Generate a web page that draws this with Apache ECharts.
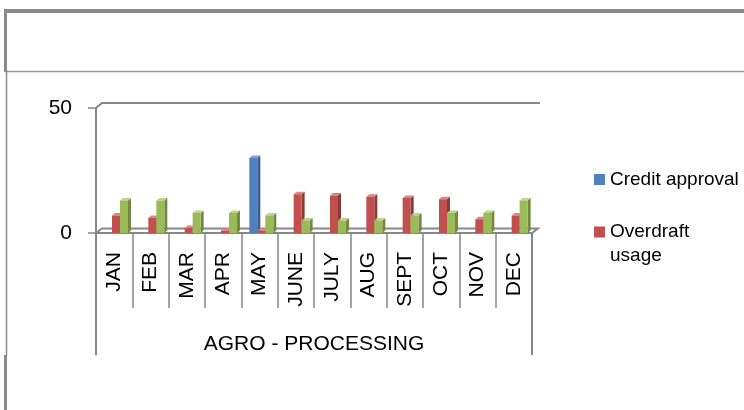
<!DOCTYPE html>
<html>
<head>
<meta charset="utf-8">
<script src="https://cdn.jsdelivr.net/npm/echarts@6/dist/echarts.min.js"></script>
<style>
  html, body { margin: 0; padding: 0; background: #fff; }
  #chart { width: 744px; height: 410px; }
</style>
</head>
<body>
<div id="chart"></div>
<script>
// Monthly figures for the agro-processing sector
const months = ['JAN', 'FEB', 'MAR', 'APR', 'MAY', 'JUNE', 'JULY', 'AUG', 'SEPT', 'OCT', 'NOV', 'DEC'];
const creditApproval = [0, 0, 0, 0, 30, 0, 0, 0, 0, 0, 0, 0];
const overdraftUsage = [7, 6, 2, 1, 1, 15.5, 15, 14.5, 14, 13.5, 5.5, 7];
const thirdSeries = [13, 13, 8, 8, 7, 5, 5, 5, 7, 8, 8, 13];
const yTicks = { min: 0, max: 50, interval: 50 };

const FONT = '"Liberation Sans", Arial, sans-serif';
const GRID_GRAY = '#878787';

// colours: front face, side face, top face
const palette = [
  { front: '#4F81BD', side: '#385D8A', top: '#7EA3D3' },
  { front: '#C0504D', side: '#8C3836', top: '#D98583' },
  { front: '#9BBB59', side: '#718A3F', top: '#BCD58A' }
];

// Draws a column with a shallow extruded look (front, top and right faces)
function makeRenderItem(slot) {
  return function (params, api) {
    const cat = api.value(0);
    const v = api.value(1);
    if (!v) return null;
    const bandW = api.size([1, 0])[0];
    const base = api.coord([cat, 0]);
    const top = api.coord([cat, v]);
    const barW = bandW * 0.22;
    const x = base[0] - bandW / 2 + bandW * 0.22 + slot * barW;
    const by = base[1];
    const ty = top[1];
    const dx = 3, dy = 2.5;
    const c = palette[slot];
    return {
      type: 'group',
      children: [
        {
          type: 'polygon',
          shape: { points: [[x + barW, ty], [x + barW + dx, ty - dy], [x + barW + dx, by - dy], [x + barW, by]] },
          style: { fill: c.side }
        },
        {
          type: 'polygon',
          shape: { points: [[x, ty], [x + dx, ty - dy], [x + barW + dx, ty - dy], [x + barW, ty]] },
          style: { fill: c.top }
        },
        {
          type: 'rect',
          shape: { x: x, y: ty, width: barW, height: by - ty },
          style: { fill: c.front }
        }
      ]
    };
  };
}

function toData(arr) {
  return arr.map(function (v, i) { return [i, v]; });
}

const chart = echarts.init(document.getElementById('chart'), null, { renderer: 'canvas' });

// legend marker whose square sits beside the first line of a two-line label
const topSquareIcon = 'path://M0,0L11,0L11,11L0,11Z M0,35L11,35';

const option = {
  animation: false,
  backgroundColor: '#fff',
  textStyle: { fontFamily: FONT },
  grid: { left: 96, right: 212, top: 108, bottom: 177 },
  legend: [
    {
      data: ['Credit approval'],
      orient: 'vertical',
      left: 589, top: 165,
      itemWidth: 11, itemHeight: 11,
      icon: 'rect',
      selectedMode: false,
      textStyle: { fontFamily: FONT, fontSize: 19, color: '#000' }
    },
    {
      data: ['Overdraft usage'],
      orient: 'vertical',
      left: 589, top: 215,
      itemWidth: 11, itemHeight: 35,
      icon: topSquareIcon,
      itemStyle: { borderWidth: 0 },
      selectedMode: false,
      formatter: function (name) { return name.replace(' ', '\n'); },
      textStyle: { fontFamily: FONT, fontSize: 19, lineHeight: 24, color: '#000' }
    }
  ],
  xAxis: {
    type: 'category',
    data: months,
    boundaryGap: true,
    name: 'AGRO - PROCESSING',
    nameLocation: 'middle',
    nameGap: 101,
    nameTextStyle: { fontFamily: FONT, fontSize: 21, color: '#000' },
    axisLine: { show: true, lineStyle: { color: GRID_GRAY, width: 2 } },
    axisTick: { show: true, length: 75, alignWithLabel: false, lineStyle: { color: GRID_GRAY, width: 1.5 } },
    axisLabel: { interval: 0, rotate: 90, margin: 19, fontFamily: FONT, fontSize: 21, color: '#000' },
    splitLine: { show: false }
  },
  yAxis: {
    type: 'value',
    min: yTicks.min, max: yTicks.max, interval: yTicks.interval,
    axisLine: { show: true, lineStyle: { color: GRID_GRAY, width: 2 } },
    axisTick: { show: true, length: 8, lineStyle: { color: GRID_GRAY, width: 1.5 } },
    axisLabel: { margin: 24, fontFamily: FONT, fontSize: 21, color: '#000' },
    splitLine: { show: false }
  },
  series: [
    { name: 'Credit approval', type: 'custom', renderItem: makeRenderItem(0), data: toData(creditApproval), itemStyle: { color: palette[0].front }, z: 5 },
    { name: 'Overdraft usage', type: 'custom', renderItem: makeRenderItem(1), data: toData(overdraftUsage), itemStyle: { color: palette[1].front }, z: 5 },
    { name: 'Series 3', type: 'custom', renderItem: makeRenderItem(2), data: toData(thirdSeries), itemStyle: { color: palette[2].front }, z: 5 }
  ]
};

chart.setOption(option);

// Floor, back wall and frame, placed from the axis scales
const y0 = chart.convertToPixel({ yAxisIndex: 0 }, 0);
const yMax = chart.convertToPixel({ yAxisIndex: 0 }, yTicks.max);
const c0 = chart.convertToPixel({ xAxisIndex: 0 }, 0);
const c1 = chart.convertToPixel({ xAxisIndex: 0 }, 1);
const band = c1 - c0;
const xL = c0 - band / 2;
const xR = xL + band * months.length;
const depthX = 6, depthY = 4.5;
const tableBottom = 355;
const lineStyle = { stroke: GRID_GRAY, lineWidth: 2, fill: null };
const frame = '#8a8a8a';

chart.setOption({
  graphic: [
    // back wall top edge
    { type: 'polyline', shape: { points: [[xL, yMax], [xL + depthX, yMax - 5], [xR + 8, yMax - 5]] }, style: lineStyle, z: 1 },
    // floor back edge
    { type: 'polyline', shape: { points: [[xL, y0], [xL + depthX, y0 - depthY], [xR + depthX, y0 - depthY], [xR, y0]] }, style: lineStyle, z: 1 },
    // category table outer borders
    { type: 'line', shape: { x1: xL, y1: y0, x2: xL, y2: tableBottom }, style: { stroke: GRID_GRAY, lineWidth: 2 }, z: 1 },
    { type: 'line', shape: { x1: xR, y1: y0, x2: xR, y2: tableBottom }, style: { stroke: GRID_GRAY, lineWidth: 2 }, z: 1 },
    // page frame
    { type: 'line', shape: { x1: 4, y1: 11, x2: 744, y2: 11 }, style: { stroke: frame, lineWidth: 4 }, z: 1 },
    { type: 'line', shape: { x1: 6, y1: 71.5, x2: 744, y2: 71.5 }, style: { stroke: '#9a9a9a', lineWidth: 1.5 }, z: 1 },
    { type: 'line', shape: { x1: 5.5, y1: 9, x2: 5.5, y2: 72 }, style: { stroke: frame, lineWidth: 3 }, z: 1 },
    { type: 'line', shape: { x1: 6.5, y1: 72, x2: 6.5, y2: tableBottom }, style: { stroke: frame, lineWidth: 1.5 }, z: 1 },
    { type: 'line', shape: { x1: 5.5, y1: tableBottom, x2: 5.5, y2: 410 }, style: { stroke: frame, lineWidth: 3 }, z: 1 }
  ]
});
</script>
</body>
</html>
